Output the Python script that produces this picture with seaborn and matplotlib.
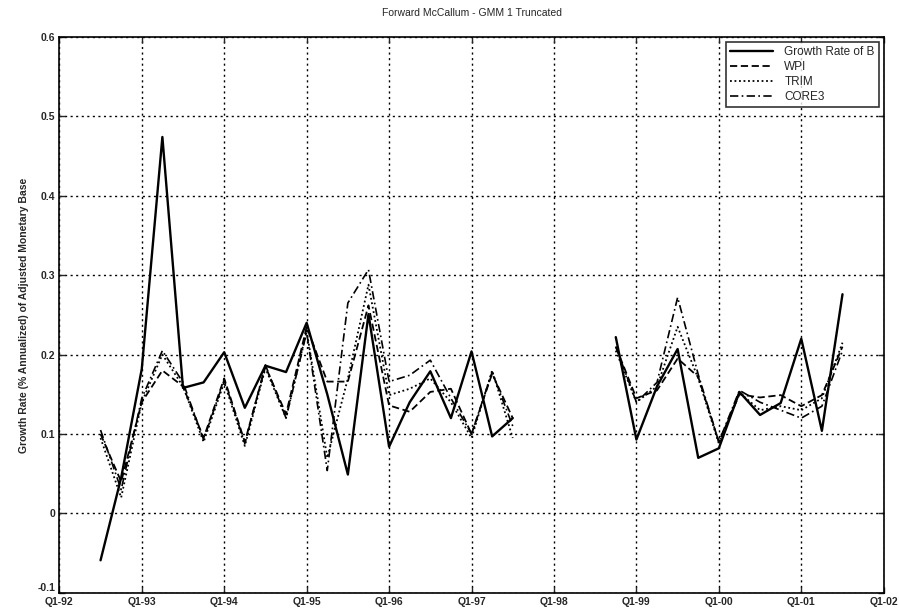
import numpy as np
import pandas as pd
import seaborn as sns
import matplotlib.pyplot as plt

# quarters Q3-92 .. Q3-01 (index t counted from Q1-92), gap Q4-97..Q3-98
quarter_idx = list(range(2, 39))
segment = [0] * 21 + [None] * 4 + [1] * 12

growth_b = [-0.059, 0.045, 0.182, 0.474, 0.158, 0.165, 0.203, 0.133, 0.186, 0.178,
            0.240, 0.150, 0.049, 0.251, 0.084, 0.140, 0.179, 0.120, 0.204, 0.097, 0.120,
            None, None, None, None,
            0.222, 0.093, 0.160, 0.207, 0.070, 0.082, 0.153, 0.124, 0.139, 0.220, 0.104, 0.276]
wpi = [0.100, 0.040, 0.140, 0.180, 0.160, 0.095, 0.170, 0.090, 0.185, 0.125,
       0.235, 0.166, 0.166, 0.262, 0.136, 0.128, 0.153, 0.157, 0.100, 0.176, 0.120,
       None, None, None, None,
       0.210, 0.145, 0.155, 0.195, 0.172, 0.090, 0.150, 0.146, 0.149, 0.135, 0.149, 0.210]
trim = [0.095, 0.020, 0.140, 0.200, 0.160, 0.090, 0.165, 0.085, 0.183, 0.120,
        0.230, 0.070, 0.170, 0.288, 0.149, 0.157, 0.170, 0.140, 0.095, 0.180, 0.095,
        None, None, None, None,
        0.205, 0.140, 0.160, 0.235, 0.170, 0.088, 0.152, 0.130, 0.135, 0.130, 0.145, 0.215]
core3 = [0.105, 0.030, 0.145, 0.205, 0.165, 0.093, 0.168, 0.088, 0.187, 0.120,
         0.228, 0.054, 0.265, 0.307, 0.166, 0.174, 0.193, 0.145, 0.100, 0.178, 0.110,
         None, None, None, None,
         0.210, 0.140, 0.165, 0.272, 0.175, 0.090, 0.155, 0.140, 0.130, 0.120, 0.135, 0.205]

series_names = ["Growth Rate of B", "WPI", "TRIM", "CORE3"]
tick_labels = ["Q1-92", "Q1-93", "Q1-94", "Q1-95", "Q1-96", "Q1-97",
               "Q1-98", "Q1-99", "Q1-00", "Q1-01", "Q1-02"]
y_ticks = [-0.1, 0, 0.1, 0.2, 0.3, 0.4, 0.5, 0.6]

# long table for seaborn
rows = []
for name, vals in zip(series_names, [growth_b, wpi, trim, core3]):
    for t, seg, v in zip(quarter_idx, segment, vals):
        if v is None:
            continue
        rows.append({"t": t, "segment": seg, "series": name, "value": v})
df = pd.DataFrame(rows)

sns.set_style("white")
plt.rcParams["font.family"] = ["Liberation Sans", "DejaVu Sans"]

fig = plt.figure(figsize=(8.99, 6.15), dpi=100)
ax = fig.add_axes([0.066, 0.036, 0.917, 0.904])

styles = {
    "Growth Rate of B": dict(linestyle="-", linewidth=1.7),
    "WPI": dict(linestyle=(0, (4, 2)), linewidth=1.3),
    "TRIM": dict(linestyle=(0, (1, 1.5)), linewidth=1.3),
    "CORE3": dict(linestyle=(0, (5, 2, 1, 2)), linewidth=1.2),
}
for name in series_names:
    sub = df[df["series"] == name]
    for i, (seg, part) in enumerate(sub.groupby("segment")):
        sns.lineplot(data=part, x="t", y="value", ax=ax, color="black",
                     label=name if i == 0 else None, estimator=None, sort=False,
                     **styles[name])

ax.set_xlim(0, 40)
ax.set_ylim(-0.1, 0.6)
ax.set_xticks(range(0, 41, 4))
ax.set_xticklabels(tick_labels)
ax.set_yticks(y_ticks)
ax.set_yticklabels(["-0.1", "0", "0.1", "0.2", "0.3", "0.4", "0.5", "0.6"])
ax.grid(True, color="black", linestyle=(0, (1.5, 2.5)), linewidth=1.0)
ax.tick_params(direction="in", length=4, labelsize=7.5, top=True, right=True,
               bottom=True, left=True, width=1)
ax.tick_params(axis="x", pad=3)
ax.tick_params(axis="y", pad=3)
for lab in ax.get_xticklabels() + ax.get_yticklabels():
    lab.set_fontweight("bold")
# lift the bottom y label so it clears Q1-92
ax.get_yticklabels()[0].set_va("bottom")
for sp in ax.spines.values():
    sp.set_color("black")
    sp.set_linewidth(1.2)

ax.set_xlabel("")
ax.set_ylabel("Growth Rate (% Annualized) of Adjusted Monetary Base",
              fontsize=7.5, fontweight="bold", labelpad=6)
ax.set_title("Forward McCallum - GMM 1 Truncated", fontsize=7.5, pad=15)

leg = ax.legend(loc="upper right", fontsize=8.5, frameon=True, fancybox=False,
                edgecolor="black", handlelength=3.6, borderpad=0.35,
                labelspacing=0.25, handletextpad=1.0,
                bbox_to_anchor=(0.997, 0.995), borderaxespad=0.2)
leg.get_frame().set_linewidth(1.2)

fig.savefig("out.png", dpi=100)
